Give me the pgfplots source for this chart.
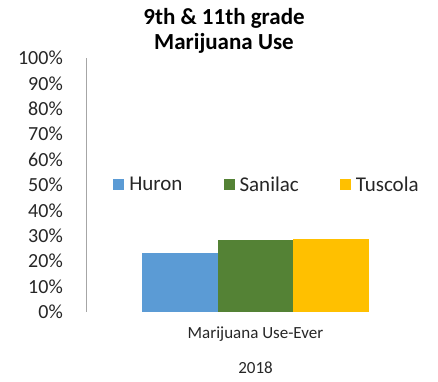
\documentclass[border=0pt]{standalone}
\usepackage{pgfplots}
\pgfplotsset{compat=1.18}
\usepackage{fontspec}
\setmainfont{Carlito}
\definecolor{huron}{HTML}{5B9BD5}
\definecolor{sanilac}{HTML}{548235}
\definecolor{tuscola}{HTML}{FFC000}
\definecolor{axisgray}{HTML}{A6A6A6}
\definecolor{txt}{HTML}{262626}
\begin{document}
\begin{tikzpicture}
\useasboundingbox (0,0) rectangle (438pt,381pt);
\node[font=\bfseries\fontsize{23}{25}\selectfont, align=center, text=black] at (224pt,350pt) {9th \& 11th grade\\Marijuana Use};
\begin{axis}[
  at={(86pt,69pt)}, anchor=south west,
  scale only axis, width=339pt, height=254pt,
  xmin=-1, xmax=1, ymin=0, ymax=100,
  ybar=0pt, bar width=75.5pt,
  axis y line*=left, axis x line*=bottom,
  x axis line style={draw=none},
  y axis line style={draw=axisgray, line width=0.8pt},
  major tick length=0,
  ytick={0,10,...,100},
  yticklabel={\pgfmathprintnumber{\tick}\%},
  /pgf/number format/assume math mode=true,
  yticklabel style={font=\fontsize{20}{22}\selectfont, text=txt, inner sep=0pt, xshift=-23pt},
  xtick={0}, xticklabels={Marijuana Use-Ever},
  xticklabel style={font=\fontsize{17}{19}\selectfont, text=txt, inner sep=0pt, yshift=-15pt},
  xlabel={2018},
  xlabel style={font=\fontsize{17}{19}\selectfont, text=txt, at={(axis description cs:0.5,0)}, anchor=north, inner sep=0pt, yshift=-50pt},
  legend columns=3,
  legend style={at={(rel axis cs:0.08,0.5)}, anchor=west, draw=none, fill=none, inner sep=0pt,
    font=\fontsize{21}{23}\selectfont, text=txt,
    /tikz/every odd column/.append style={column sep=3pt},
    /tikz/every even column/.append style={column sep=39pt}},
  legend image code/.code={\fill[#1] (0pt,-5pt) rectangle (11pt,6pt);},
]
\addplot[fill=huron, draw=none] coordinates {(0,23.2)};
\addplot[fill=sanilac, draw=none] coordinates {(0,28.3)};
\addplot[fill=tuscola, draw=none] coordinates {(0,28.9)};
\legend{Huron, Sanilac, Tuscola}
\end{axis}
\end{tikzpicture}
\end{document}
